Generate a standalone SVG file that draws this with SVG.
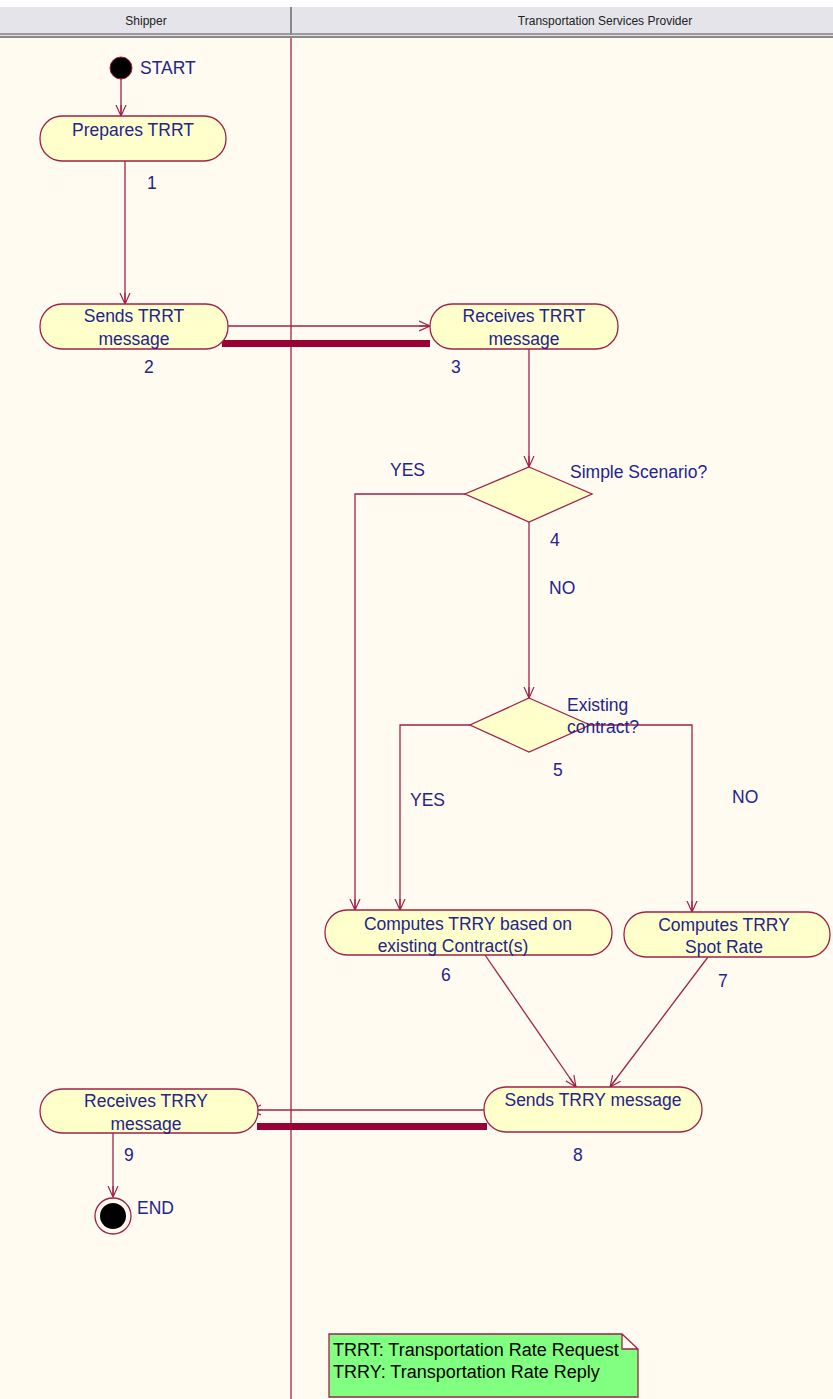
<svg xmlns="http://www.w3.org/2000/svg" width="833" height="1399" viewBox="0 0 833 1399">
<style>
.act{fill:#ffffcc;stroke:#a0224a;stroke-width:1.3}
.dec{fill:#ffffcc;stroke:#a0224a;stroke-width:1.3}
.t{font-family:"Liberation Sans",Arial,sans-serif;font-size:17.5px;fill:#24248c;text-anchor:middle}
.l{font-family:"Liberation Sans",Arial,sans-serif;font-size:17.5px;fill:#24248c}
.h{font-family:"Liberation Sans",Arial,sans-serif;font-size:12px;fill:#222;text-anchor:middle}
.e{fill:none;stroke:#a0224a;stroke-width:1.3}
.bar{fill:#990033}
.n{font-family:"Liberation Sans",Arial,sans-serif;font-size:18px;fill:#000}
</style>
<defs>
<marker id="arr" viewBox="0 0 12 12" refX="11" refY="6" markerWidth="12" markerHeight="12" markerUnits="userSpaceOnUse" orient="auto">
<path d="M0,1 L11,6 L0,11 M0,6 L11,6" fill="none" stroke="#a0224a" stroke-width="1.2"/>
</marker>
</defs>
<rect x="0" y="0" width="833" height="1399" fill="#fffbf0"/>
<rect x="0" y="0" width="833" height="7" fill="#ffffff"/>
<g id="header">
<rect x="0" y="7" width="833" height="26" fill="#e4e4ea"/>
<rect x="0" y="33" width="833" height="2" fill="#9a9a9a"/>
<rect x="0" y="35" width="833" height="1" fill="#e0e0e0"/>
<rect x="0" y="36" width="833" height="2" fill="#8a8a8a"/>
<line x1="291" y1="7" x2="291" y2="35" stroke="#888" stroke-width="2"/>
<text class="h" x="146" y="25">Shipper</text>
<text class="h" x="605" y="25">Transportation Services Provider</text>
</g>
<line x1="291" y1="38" x2="291" y2="1399" stroke="#a0224a" stroke-width="1.3"/>
<g id="connectors">
<path class="e" d="M121,79 L121,116" marker-end="url(#arr)"/>
<path class="e" d="M125,161 L125,304" marker-end="url(#arr)"/>
<path class="e" d="M228,326 L430,326" marker-end="url(#arr)"/>
<rect class="bar" x="222" y="340" width="208" height="7"/>
<path class="e" d="M529,349 L529,467" marker-end="url(#arr)"/>
<path class="e" d="M465,494 L355,494 L355,910" marker-end="url(#arr)"/>
<path class="e" d="M529,522 L529,698" marker-end="url(#arr)"/>
<path class="e" d="M470,725 L400,725 L400,910" marker-end="url(#arr)"/>
<path class="e" d="M590,725 L692,725 L692,912" marker-end="url(#arr)"/>
<path class="e" d="M485,955 L576,1087" marker-end="url(#arr)"/>
<path class="e" d="M708,957 L610,1087" marker-end="url(#arr)"/>
<path class="e" d="M500,1110 L250,1110" marker-end="url(#arr)"/>
<rect class="bar" x="257" y="1123" width="230" height="7"/>
<path class="e" d="M113,1133 L113,1197" marker-end="url(#arr)"/>
<text class="l" x="390" y="476">YES</text>
<text class="l" x="549" y="594">NO</text>
<text class="l" x="410" y="806">YES</text>
<text class="l" x="732" y="803">NO</text>
</g>
<g id="start">
<circle cx="121" cy="68" r="11" fill="#000" stroke="#a0224a" stroke-width="1"/>
<text class="l" x="140" y="74">START</text>
</g>
<g id="n1">
<rect class="act" x="40" y="116" width="186" height="45" rx="22" ry="22"/>
<text class="t" x="133" y="136">Prepares TRRT</text>
<text class="l" x="147" y="189">1</text>
</g>
<g id="n2">
<rect class="act" x="40" y="304" width="188" height="45" rx="22" ry="22"/>
<text class="t" x="134" y="322">Sends TRRT</text>
<text class="t" x="134" y="345">message</text>
<text class="l" x="144" y="373">2</text>
</g>
<g id="n3">
<rect class="act" x="430" y="304" width="188" height="45" rx="22" ry="22"/>
<text class="t" x="524" y="322">Receives TRRT</text>
<text class="t" x="524" y="345">message</text>
<text class="l" x="451" y="373">3</text>
</g>
<g id="n4">
<polygon class="dec" points="529,467 592,494 529,522 465,494"/>
<text class="l" x="570" y="478">Simple Scenario?</text>
<text class="l" x="550" y="546">4</text>
</g>
<g id="n5">
<polygon class="dec" points="529,698 590,725 529,752 470,725"/>
<text class="l" x="567" y="711">Existing</text>
<text class="l" x="567" y="733">contract?</text>
<text class="l" x="553" y="776">5</text>
</g>
<g id="n6">
<rect class="act" x="325" y="910" width="287" height="45" rx="22" ry="22"/>
<text class="t" x="468" y="930">Computes TRRY based on</text>
<text class="t" x="453" y="952">existing Contract(s)</text>
<text class="l" x="441" y="981">6</text>
</g>
<g id="n7">
<rect class="act" x="624" y="912" width="206" height="45" rx="22" ry="22"/>
<text class="t" x="724" y="931">Computes TRRY</text>
<text class="t" x="724" y="953">Spot Rate</text>
<text class="l" x="718" y="987">7</text>
</g>
<g id="n8">
<rect class="act" x="484" y="1087" width="218" height="45" rx="22" ry="22"/>
<text class="t" x="593" y="1106">Sends TRRY message</text>
<text class="l" x="573" y="1161">8</text>
</g>
<g id="n9">
<rect class="act" x="40" y="1089" width="218" height="44" rx="22" ry="22"/>
<text class="t" x="146" y="1107">Receives TRRY</text>
<text class="t" x="146" y="1130">message</text>
<text class="l" x="124" y="1161">9</text>
</g>
<g id="end">
<circle cx="113" cy="1216" r="18" fill="none" stroke="#a0224a" stroke-width="1.3"/>
<circle cx="113" cy="1216" r="13" fill="#000"/>
<text class="l" x="137" y="1214">END</text>
</g>
<g id="note">
<path d="M329,1334 L622,1334 L638,1349 L638,1397 L329,1397 Z M622,1334 L622,1349 L638,1349" fill="#80ff80" stroke="#a0224a" stroke-width="1.3"/>
<text class="n" x="333" y="1356">TRRT: Transportation Rate Request</text>
<text class="n" x="333" y="1378">TRRY: Transportation Rate Reply</text>
</g>
</svg>
